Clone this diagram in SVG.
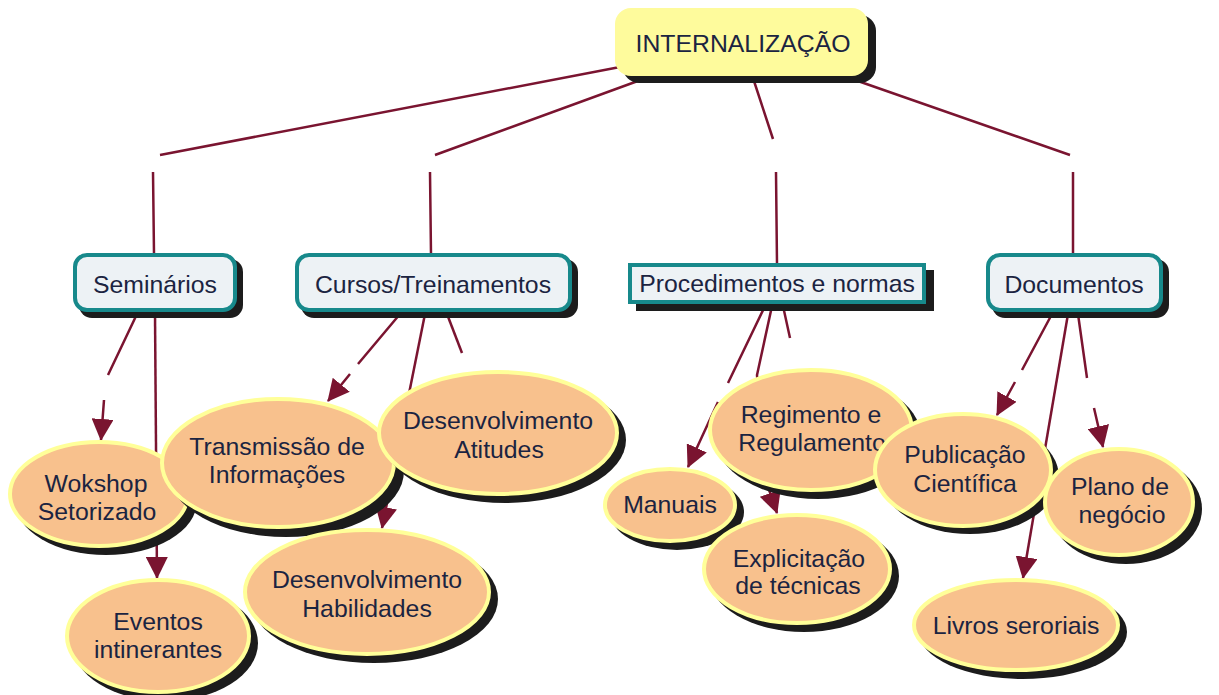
<svg xmlns="http://www.w3.org/2000/svg" width="1219" height="695" viewBox="0 0 1219 695">
<defs>
<marker id="arr" markerUnits="userSpaceOnUse" markerWidth="22" markerHeight="22" viewBox="0 0 22 22" refX="21" refY="11" orient="auto">
<path d="M0,0 L22,11 L0,22 z" fill="#7A1430"/>
</marker>
</defs>
<style>
.ln{fill:none;stroke:#7A1430;stroke-width:2.5}
.sh{fill:#1C1C1C}
.cat{fill:#EDF2F5;stroke:#17898B;stroke-width:4}
.el{fill:#F8C18D;stroke:#FFFF99;stroke-width:4}
.top{fill:#FEFB9C}
text{font-family:"Liberation Sans",Arial,sans-serif;font-size:24.8px;fill:#1B2441;text-anchor:middle}
</style>
<rect width="1219" height="695" fill="#FFFFFF"/>
<g id="connectors">
<path class="ln" d="M620,67 L160,155 M153,172 L154,254"/>
<path class="ln" d="M646,78 L435,155 M430,172 L431,255"/>
<path class="ln" d="M753,78 L773,139 M776,172 L777,264"/>
<path class="ln" d="M855,80 L1070,155 M1073,172 L1073,254"/>
<path class="ln" d="M137,314 L108,375 M104,400 L101,440" marker-end="url(#arr)"/>
<path class="ln" d="M155,314 L157,578" marker-end="url(#arr)"/>
<path class="ln" d="M400,314 L358,364 M350,374 L328,401" marker-end="url(#arr)"/>
<path class="ln" d="M425,314 L382,528" marker-end="url(#arr)"/>
<path class="ln" d="M447,314 L462,353"/>
<path class="ln" d="M765,306 L728,383 M718,402 L688,467" marker-end="url(#arr)"/>
<path class="ln" d="M772,306 L757,375 L765,478 L777,513" marker-end="url(#arr)"/>
<path class="ln" d="M783,306 L790,338"/>
<path class="ln" d="M1052,314 L1022,370 M1015,382 L997,415" marker-end="url(#arr)"/>
<path class="ln" d="M1068,314 L1023,578" marker-end="url(#arr)"/>
<path class="ln" d="M1078,314 L1087,378 M1094,408 L1103,447" marker-end="url(#arr)"/>
</g>
<g id="internalizacao">
<rect class="sh" x="623" y="15" width="253" height="68" rx="16"/>
<rect class="top" x="615" y="8" width="253" height="68" rx="16"/>
<text x="743" y="52">INTERNALIZAÇÃO</text>
</g>
<g id="seminarios">
<rect class="sh" x="79" y="259" width="164" height="59" rx="13"/>
<rect class="cat" x="75" y="255" width="160" height="55" rx="12"/>
<text x="155" y="293">Seminários</text>
</g>
<g id="cursos">
<rect class="sh" x="301" y="259" width="277" height="59" rx="13"/>
<rect class="cat" x="297" y="255" width="273" height="55" rx="12"/>
<text x="433" y="293">Cursos/Treinamentos</text>
</g>
<g id="procedimentos">
<rect class="sh" x="636" y="270" width="298" height="41"/>
<rect class="cat" x="630" y="265" width="294" height="37"/>
<text x="777" y="292">Procedimentos e normas</text>
</g>
<g id="documentos">
<rect class="sh" x="992" y="259" width="177" height="59" rx="13"/>
<rect class="cat" x="988" y="255" width="173" height="55" rx="12"/>
<text x="1074" y="293">Documentos</text>
</g>
<g id="wokshop">
<ellipse class="sh" cx="106" cy="501" rx="91" ry="54"/>
<ellipse class="el" cx="99" cy="494" rx="89" ry="52"/>
<text x="96" y="492">Wokshop</text>
<text x="97" y="520">Setorizado</text>
</g>
<g id="transmissao">
<ellipse class="sh" cx="286" cy="471" rx="118" ry="66"/>
<ellipse class="el" cx="278" cy="463" rx="116" ry="64"/>
<text x="277" y="455">Transmissão de</text>
<text x="277" y="483">Informações</text>
</g>
<g id="atitudes">
<ellipse class="sh" cx="505" cy="440" rx="121" ry="63"/>
<ellipse class="el" cx="498" cy="433" rx="119" ry="61"/>
<text x="498" y="429">Desenvolvimento</text>
<text x="499" y="458">Atitudes</text>
</g>
<g id="habilidades">
<ellipse class="sh" cx="374" cy="599" rx="124" ry="64"/>
<ellipse class="el" cx="367" cy="592" rx="122" ry="62"/>
<text x="367" y="588">Desenvolvimento</text>
<text x="367" y="617">Habilidades</text>
</g>
<g id="eventos">
<ellipse class="sh" cx="165" cy="643" rx="93" ry="58"/>
<ellipse class="el" cx="158" cy="636" rx="91" ry="56"/>
<text x="158" y="630">Eventos</text>
<text x="158" y="658">intinerantes</text>
</g>
<g id="manuais">
<ellipse class="sh" cx="677" cy="512" rx="67" ry="38"/>
<ellipse class="el" cx="670" cy="505" rx="65" ry="36"/>
<text x="670" y="513">Manuais</text>
</g>
<g id="regimento">
<ellipse class="sh" cx="818" cy="437" rx="103" ry="62"/>
<ellipse class="el" cx="811" cy="430" rx="101" ry="60"/>
<text x="811" y="423">Regimento e</text>
<text x="812" y="451">Regulamento</text>
</g>
<g id="explicitacao">
<ellipse class="sh" cx="804" cy="576" rx="95" ry="56"/>
<ellipse class="el" cx="797" cy="569" rx="93" ry="54"/>
<text x="799" y="567">Explicitação</text>
<text x="798" y="594">de técnicas</text>
</g>
<g id="publicacao">
<ellipse class="sh" cx="970" cy="477" rx="89" ry="57"/>
<ellipse class="el" cx="963" cy="470" rx="88" ry="56"/>
<text x="965" y="463">Publicação</text>
<text x="965" y="492">Científica</text>
</g>
<g id="plano">
<ellipse class="sh" cx="1126" cy="509" rx="76" ry="55"/>
<ellipse class="el" cx="1119" cy="502" rx="74" ry="53"/>
<text x="1120" y="495">Plano de</text>
<text x="1122" y="523">negócio</text>
</g>
<g id="livros">
<ellipse class="sh" cx="1023" cy="632" rx="104" ry="47"/>
<ellipse class="el" cx="1016" cy="625" rx="102" ry="45"/>
<text x="1016" y="634">Livros seroriais</text>
</g>
</svg>
